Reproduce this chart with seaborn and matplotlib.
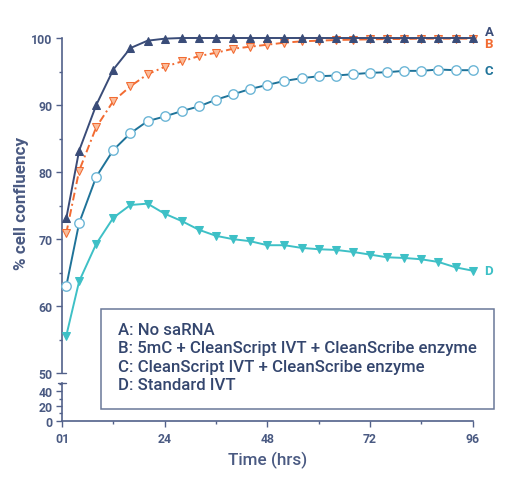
import numpy as np
import pandas as pd
import matplotlib
matplotlib.use("Agg")
import matplotlib.pyplot as plt
import seaborn as sns
from matplotlib.patches import Rectangle
from matplotlib.ticker import MultipleLocator

# ---- data ----
times = [1, 4, 8, 12, 16, 20, 24, 28, 32, 36, 40, 44, 48, 52, 56, 60, 64, 68, 72, 76, 80, 84, 88, 92, 96]
series_a = [73.1, 83.2, 90.0, 95.3, 98.5, 99.6, 99.9, 100, 100, 100, 100, 100, 100, 100, 100, 100, 100, 100, 100, 100, 100, 100, 100, 100, 100]
series_b = [70.9, 80.2, 86.7, 90.6, 92.8, 94.6, 95.7, 96.5, 97.3, 97.8, 98.4, 98.7, 99.0, 99.3, 99.5, 99.6, 99.7, 99.75, 99.8, 99.85, 99.85, 99.9, 99.9, 99.9, 99.9]
series_c = [63.0, 72.4, 79.3, 83.3, 85.8, 87.6, 88.3, 89.1, 89.8, 90.8, 91.6, 92.4, 93.0, 93.6, 94.0, 94.3, 94.4, 94.6, 94.8, 94.9, 95.1, 95.1, 95.3, 95.2, 95.2]
series_d = [55.6, 63.7, 69.3, 73.2, 75.1, 75.3, 73.8, 72.7, 71.4, 70.5, 70.0, 69.7, 69.1, 69.1, 68.7, 68.5, 68.4, 68.1, 67.7, 67.3, 67.2, 67.0, 66.6, 65.8, 65.3]
end_labels = ["A", "B", "C", "D"]
legend_lines = [
    "A: No saRNA",
    "B: 5mC + CleanScript IVT + CleanScribe enzyme",
    "C: CleanScript IVT + CleanScribe enzyme",
    "D: Standard IVT",
]
x_ticks = [0, 24, 48, 72, 96]
x_ticklabels = ["01", "24", "48", "72", "96"]
upper_yticks = [50, 60, 70, 80, 90, 100]
lower_yticks = [0, 20, 40]

# ---- style ----
sns.set_theme(style="ticks")
plt.rcParams["font.family"] = ["Roboto", "DejaVu Sans"]
AX = "#52618a"
TXT = "#4a5a82"
C_A = "#3a4c78"
C_B = "#f26b32"
C_C = "#1f7399"
C_CE = "#6cb6d6"
C_D = "#3ec0c6"

W, H = 507, 485
fig = plt.figure(figsize=(W / 100, H / 100), dpi=100)
left = 62 / W
width = (472.7 - 62) / W
ax1 = fig.add_axes([left, 1 - 374.3 / H, width, (374.3 - 39) / H])
ax2 = fig.add_axes([left, 1 - 421.7 / H, width, (421.7 - 384) / H], sharex=ax1)

lw = 1.4
sns.lineplot(x=times, y=series_a, ax=ax1, color=C_A, lw=lw, marker="^", markersize=5.8,
             markeredgecolor=C_A, markerfacecolor=C_A, clip_on=False, zorder=5)
sns.lineplot(x=times, y=series_b, ax=ax1, color=C_B, lw=lw, marker="v", markersize=6,
             markeredgecolor=C_B, markerfacecolor="#fbbd9c", dashes=(4, 1.8, 1, 1.8),
             clip_on=False, zorder=4)
sns.lineplot(x=times, y=series_c, ax=ax1, color=C_C, lw=lw, marker="o", markersize=6.8,
             markeredgecolor=C_CE, markerfacecolor="white", markeredgewidth=1.0,
             clip_on=False, zorder=3)
sns.lineplot(x=times, y=series_d, ax=ax1, color=C_D, lw=lw, marker="v", markersize=5.8,
             markeredgecolor=C_D, markerfacecolor=C_D, clip_on=False, zorder=3)

ax1.set_xlim(0, 96)
ax1.set_ylim(50, 100)
ax2.set_ylim(0, 51.3)

for ax in (ax1, ax2):
    for s in ("top", "right"):
        ax.spines[s].set_visible(False)
    ax.spines["left"].set_color(AX)
    ax.spines["left"].set_linewidth(1.2)
    ax.set_facecolor("none")
    ax.tick_params(axis="both", which="major", length=4.2, width=1.0, color=AX,
                   labelcolor=TXT, labelsize=8.8, pad=2.5)
    ax.tick_params(axis="both", which="minor", length=2.3, width=1.0, color=AX)

ax1.spines["bottom"].set_visible(False)
ax1.tick_params(axis="x", which="both", bottom=False, labelbottom=False)
ax1.set_yticks(upper_yticks)
ax1.yaxis.set_minor_locator(MultipleLocator(5))
ax1.set_yticklabels([str(v) for v in upper_yticks], fontweight="bold")

ax2.spines["bottom"].set_color(AX)
ax2.spines["bottom"].set_linewidth(1.2)
ax2.set_yticks(lower_yticks)
ax2.yaxis.set_minor_locator(MultipleLocator(10))
ax2.set_yticklabels([str(v) for v in lower_yticks], fontweight="bold")
ax2.set_xticks(x_ticks)
ax2.set_xticklabels(x_ticklabels, fontweight="bold")
ax2.xaxis.set_minor_locator(MultipleLocator(12))
ax2.tick_params(axis="x", which="major", pad=4)

# break caps
cap_r = 3.5 / (472.7 - 62)
cap_l = 4.2 / (472.7 - 62)
ax1.plot([0, cap_r], [0, 0], transform=ax1.transAxes, color=AX, lw=1.0, clip_on=False)
ax2.plot([-cap_l, cap_r], [1, 1], transform=ax2.transAxes, color=AX, lw=1.0, clip_on=False)

# axis labels
fig.text(21.7 / W, 1 - 203 / H, "% cell confluency", rotation=90, ha="center", va="center",
         fontsize=12.3, fontweight="bold", color=TXT)
fig.text((62 + 472.7) / 2 / W, 1 - 460.7 / H, "Time (hrs)", ha="center", va="center",
         fontsize=12.3, fontweight="medium", color=TXT)

# end labels
colors = [C_A, C_B, C_C, C_D]
finals = [series_a[-1], series_b[-1], series_c[-1], series_d[-1]]
offsets = [4.5, -3.5, 0, 0]
for lab, col, yv, dy in zip(end_labels, colors, finals, offsets):
    ax1.annotate(lab, xy=(times[-1], yv), xytext=(8.5, dy), textcoords="offset points",
                 ha="left", va="center", fontsize=9.5, fontweight="bold", color=col,
                 annotation_clip=False)

# legend box
fig.patches.append(Rectangle((100.7 / W, 1 - 410 / H), (494 - 100.7) / W, (410 - 310) / H,
                             transform=fig.transFigure, fill=False, edgecolor="#6a7898", lw=1.1))
baselines = [335, 353.3, 371.7, 390]
for txt, yb in zip(legend_lines, baselines):
    fig.text(118 / W, 1 - yb / H, txt, ha="left", va="baseline", fontsize=12.1,
             fontweight="medium", color="#34466e")

fig.savefig("out.png", dpi=100)
